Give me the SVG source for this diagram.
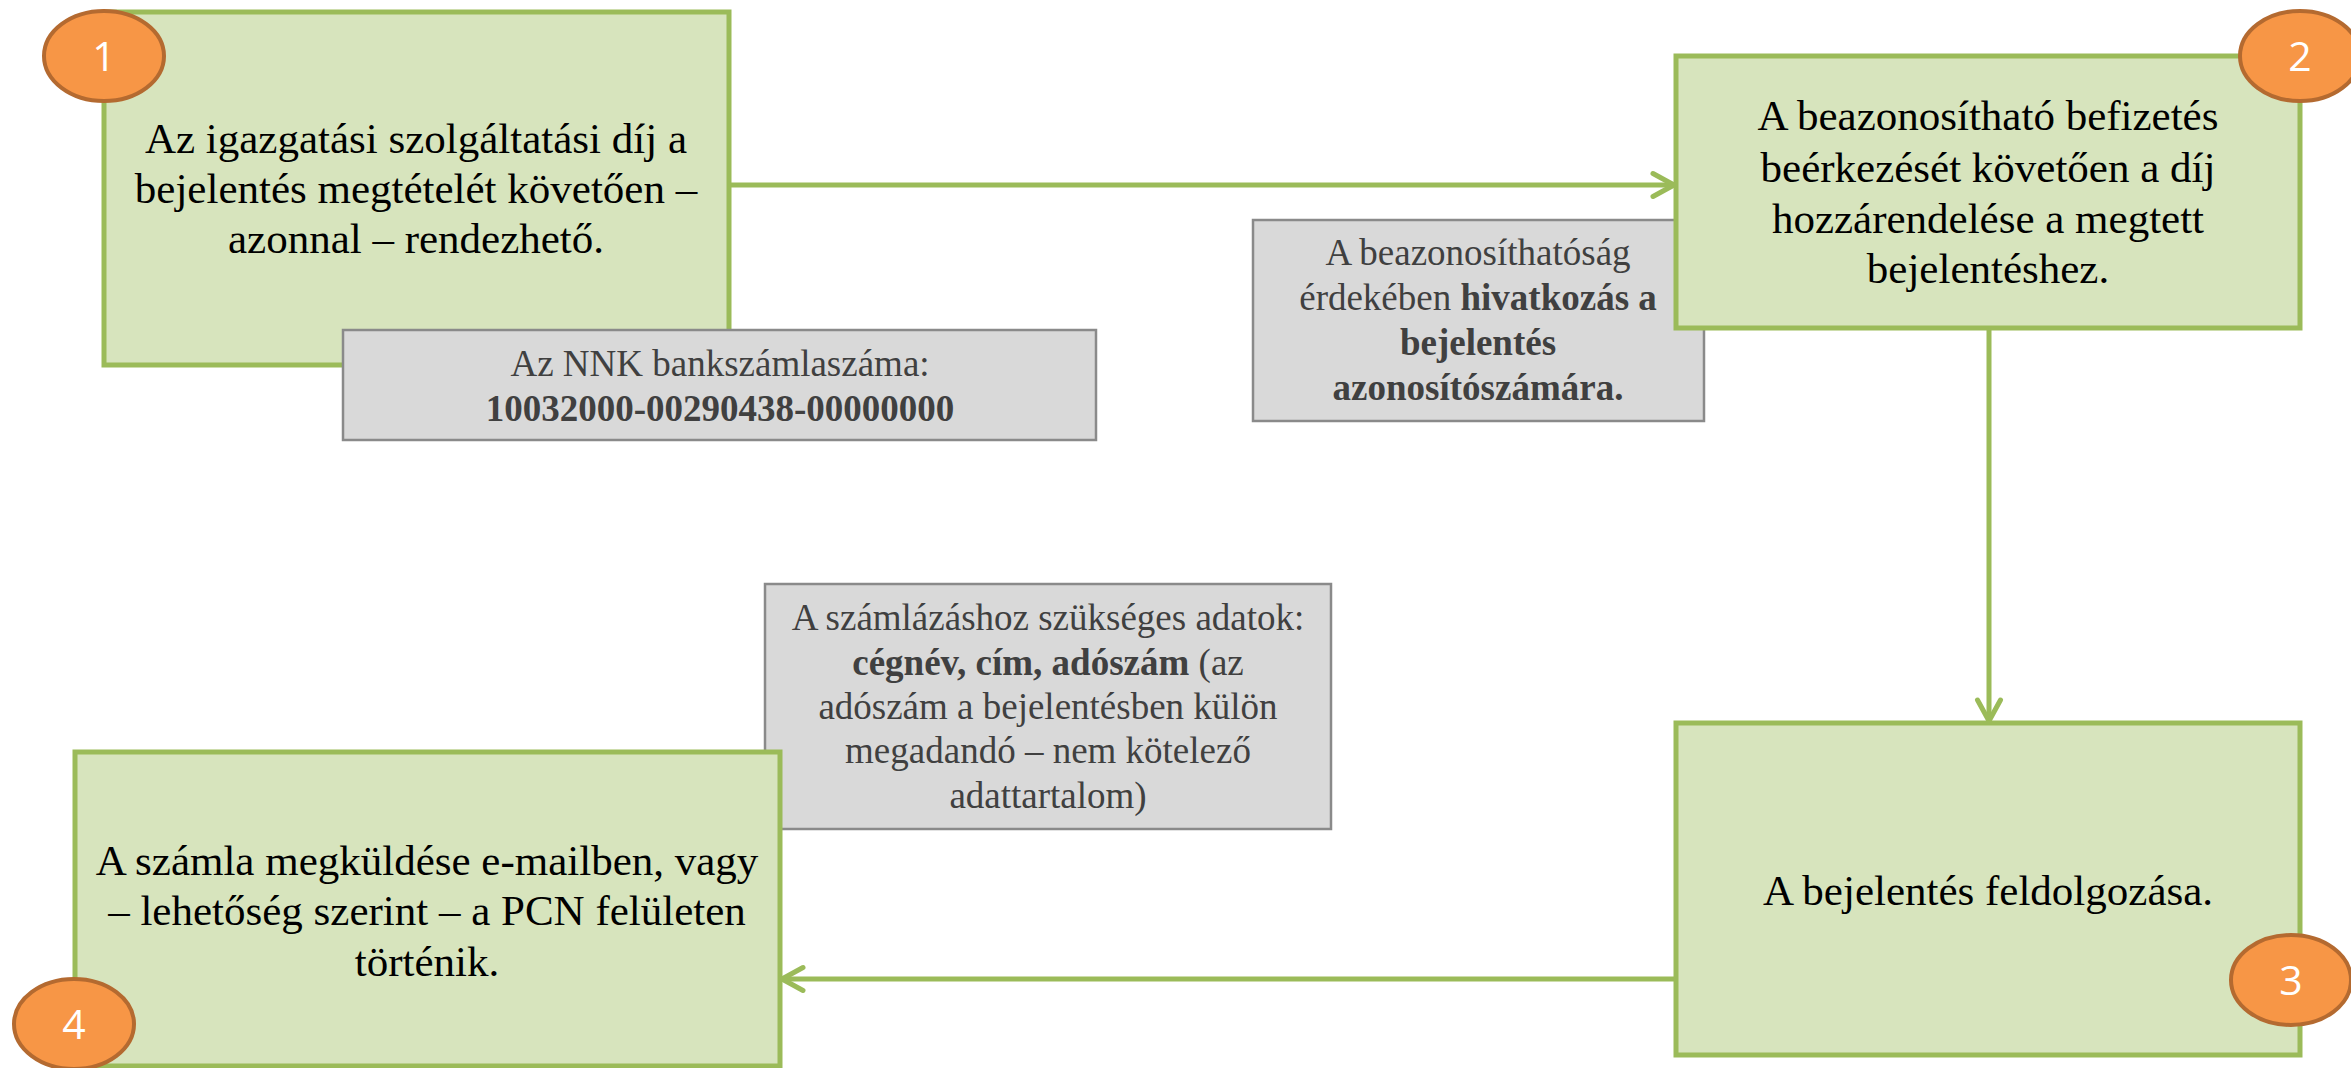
<svg xmlns="http://www.w3.org/2000/svg" width="2351" height="1068" viewBox="0 0 2351 1068">
<style>
.box{fill:#D7E4BD;stroke:#9BBB59;stroke-width:5}
.note{fill:#D9D9D9;stroke:#8A8A8A;stroke-width:2.5}
.badge{fill:#F79646;stroke:#B46A30;stroke-width:4}
.t{font-family:"Liberation Serif","Times New Roman",serif;font-size:43px;fill:#000;text-anchor:middle}
.n{font-family:"Liberation Serif","Times New Roman",serif;font-size:37px;fill:#404040;text-anchor:middle}
.d{font-family:"Open Sans","Noto Sans",sans-serif;font-size:41px;fill:#fff;text-anchor:middle}
.b{font-weight:bold}
.c{fill:none;stroke:#9BBB59;stroke-width:5}
</style>
<defs>
<marker id="arr" markerUnits="userSpaceOnUse" viewBox="-30 -20 40 40" markerWidth="40" markerHeight="40" refX="-3" refY="0" orient="auto">
<path d="M-21,-11.5 L0,0 L-21,11.5" fill="none" stroke="#9BBB59" stroke-width="5" stroke-linecap="round" stroke-linejoin="round"/>
</marker>
</defs>
<rect width="2351" height="1068" fill="#fff"/>
<g id="connectors">
<line class="c" x1="731" y1="185" x2="1671" y2="185" marker-end="url(#arr)"/>
<line class="c" x1="1989" y1="330" x2="1989" y2="718" marker-end="url(#arr)"/>
<line class="c" x1="1674" y1="979" x2="785" y2="979" marker-end="url(#arr)"/>
</g>
<g id="node1">
<rect class="box" x="104" y="12" width="625" height="353"/>
<text class="t" x="416" y="153">Az igazgatási szolgáltatási díj a</text>
<text class="t" x="416" y="203">bejelentés megtételét követően –</text>
<text class="t" x="416" y="253">azonnal – rendezhető.</text>
<ellipse class="badge" cx="104" cy="56" rx="60" ry="45"/>
<text class="d" x="104" y="71">1</text>
</g>
<g id="note1">
<rect class="note" x="343" y="330" width="753" height="110"/>
<text class="n" x="720" y="376">Az NNK bankszámlaszáma:</text>
<text class="n b" x="720" y="421">10032000-00290438-00000000</text>
</g>
<g id="note2">
<rect class="note" x="1253" y="220" width="451" height="201"/>
<text class="n" x="1478" y="265">A beazonosíthatóság</text>
<text class="n" x="1478" y="310">érdekében <tspan class="b">hivatkozás a</tspan></text>
<text class="n b" x="1478" y="355">bejelentés</text>
<text class="n b" x="1478" y="400">azonosítószámára.</text>
</g>
<g id="node2">
<rect class="box" x="1676" y="56" width="624" height="272"/>
<text class="t" x="1988" y="130">A beazonosítható befizetés</text>
<text class="t" x="1988" y="182">beérkezését követően a díj</text>
<text class="t" x="1988" y="233">hozzárendelése a megtett</text>
<text class="t" x="1988" y="283">bejelentéshez.</text>
<ellipse class="badge" cx="2300" cy="56" rx="60" ry="45"/>
<text class="d" x="2300" y="71">2</text>
</g>
<g id="node3">
<rect class="box" x="1676" y="723" width="624" height="332"/>
<text class="t" x="1988" y="905">A bejelentés feldolgozása.</text>
<ellipse class="badge" cx="2291" cy="980" rx="60" ry="45"/>
<text class="d" x="2291" y="995">3</text>
</g>
<g id="note3">
<rect class="note" x="765" y="584" width="566" height="245"/>
<text class="n" x="1048" y="630">A számlázáshoz szükséges adatok:</text>
<text class="n" x="1048" y="675"><tspan class="b">cégnév, cím, adószám</tspan> (az</text>
<text class="n" x="1048" y="719">adószám a bejelentésben külön</text>
<text class="n" x="1048" y="763">megadandó – nem kötelező</text>
<text class="n" x="1048" y="808">adattartalom)</text>
</g>
<g id="node4">
<rect class="box" x="75" y="752" width="705" height="314"/>
<text class="t" x="427" y="875">A számla megküldése e-mailben, vagy</text>
<text class="t" x="427" y="925">– lehetőség szerint – a PCN felületen</text>
<text class="t" x="427" y="976">történik.</text>
<ellipse class="badge" cx="74" cy="1024" rx="60" ry="45"/>
<text class="d" x="74" y="1039">4</text>
</g>
</svg>
